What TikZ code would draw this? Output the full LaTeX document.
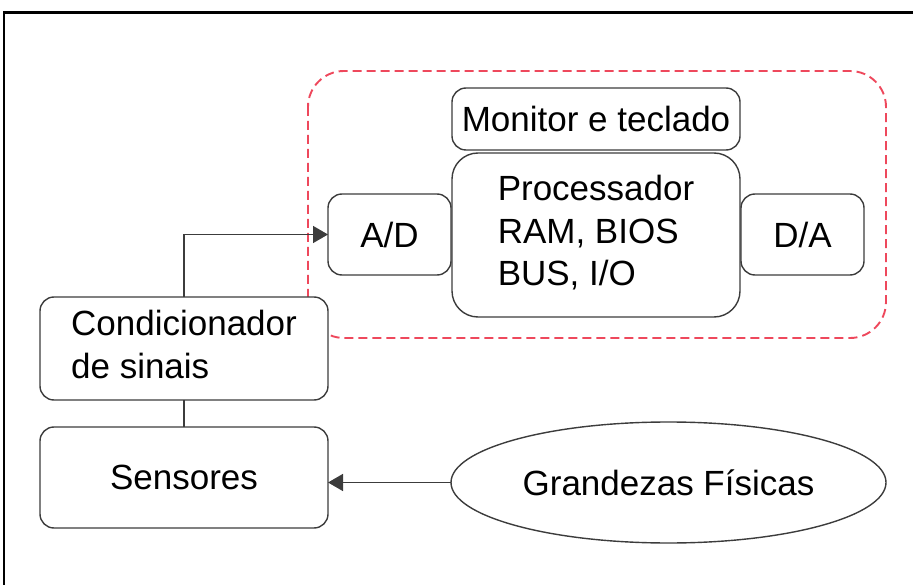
\documentclass[tikz,border=0pt]{standalone}
\usepackage{fontspec}
\setmainfont{Liberation Sans}
\usetikzlibrary{arrows.meta,shapes.geometric}
\definecolor{edge}{RGB}{60,60,60}
\definecolor{groupred}{RGB}{238,72,92}
\tikzset{
  box/.style={draw=edge, line width=1.4pt, rounded corners=14pt, fill=white,
    inner sep=0pt, outer sep=0pt, align=center,
    font=\fontsize{35}{42.5}\selectfont},
  link/.style={draw=edge, line width=1.5pt},
  arrowlink/.style={link, -{Triangle[length=15pt,width=17pt]}},
  group/.style={draw=groupred, line width=1.9pt, dash pattern=on 9pt off 5pt,
    rounded corners=36pt},
}
\begin{document}
\begin{tikzpicture}[x=1pt,y=-1pt]
  \useasboundingbox (0,0) rectangle (913,585);
  % outer frame
  \draw[line width=2.2pt] (4,585) -- (4,12.5) -- (913,12.5);

  % computer group
  \draw[group] (308,71) rectangle (886,338);

  \node[box, minimum width=288pt, minimum height=62pt] (mon) at (596,119) {Monitor e teclado};
  \node[box, minimum width=288pt, minimum height=164pt, rounded corners=26pt] (proc) at (596,235)
    {\begin{tabular}{@{}l@{}}Processador\\RAM, BIOS\\BUS, I/O\end{tabular}};
  \node[box, minimum width=123pt, minimum height=81pt] (ad) at (389.5,234.5) {A/D};
  \node[box, minimum width=123pt, minimum height=81pt] (da) at (802.5,234.5) {D/A};

  \node[box, minimum width=288pt, minimum height=103pt] (cond) at (184,348.5)
    {\begin{tabular}{@{}l@{}}Condicionador\\de sinais\end{tabular}};
  \node[box, minimum width=288pt, minimum height=101pt] (sens) at (184,477.5) {Sensores};
  \node[box, ellipse, minimum width=435pt, minimum height=121pt] (ell) at (668.5,482.5) {Grandezas Físicas};

  % connectors
  \draw[link] (cond.south) -- (sens.north);
  \draw[arrowlink] (cond.north) |- (ad.west);
  \draw[arrowlink] (ell.west) -- (sens.east |- ell.west);
\end{tikzpicture}
\end{document}
